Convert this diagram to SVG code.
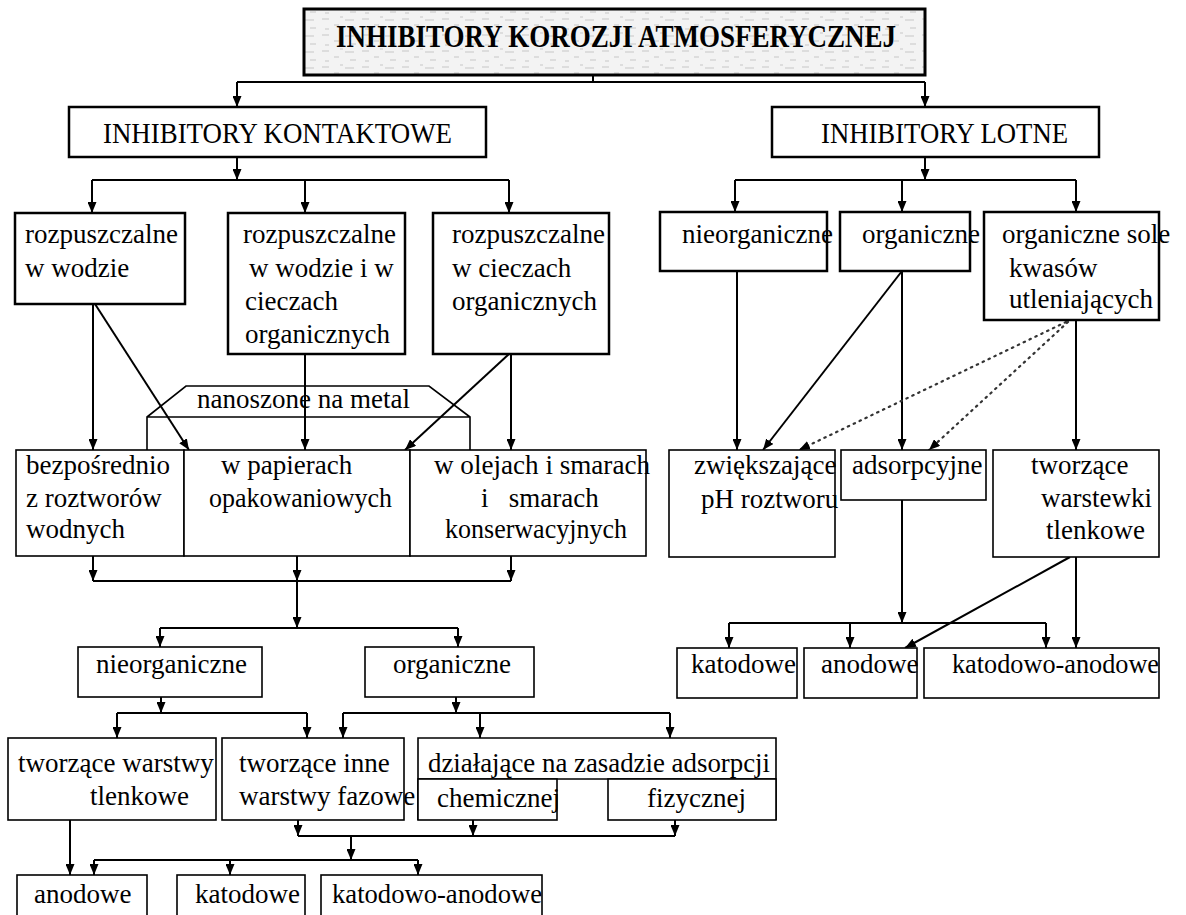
<svg xmlns="http://www.w3.org/2000/svg" width="1186" height="915" viewBox="0 0 1186 915">
<style>
.bx{fill:#fff;stroke:#000;stroke-width:2.5}
.bt{fill:#fff;stroke:#000;stroke-width:1.6}
.t{font-family:"Liberation Serif","Times New Roman",serif;font-size:27px;fill:#000}
.tl{font-family:"Liberation Serif","Times New Roman",serif;font-size:29px;fill:#000}
.tb{font-family:"Liberation Serif","Times New Roman",serif;font-size:31px;font-weight:bold;fill:#000}
.c{fill:none;stroke:#000;stroke-width:2}
.a{fill:none;stroke:#000;stroke-width:2;marker-end:url(#ah)}
.d{fill:none;stroke:#333;stroke-width:2.2;stroke-dasharray:1.5 5;stroke-linecap:round;marker-end:url(#ah)}
</style>
<defs>
<marker id="ah" markerUnits="userSpaceOnUse" markerWidth="11" markerHeight="9" refX="11" refY="4.5" orient="auto">
<path d="M0,0 L11,4.5 L0,9 z" fill="#000"/>
</marker>
<pattern id="noise" width="40" height="16" patternUnits="userSpaceOnUse">
<rect width="40" height="16" fill="#f3f3f3"/>
<path d="M2,3 h7 M14,9 h5 M25,4 h9 M5,13 h4 M30,12 h6 M20,1 h3" stroke="#c8c8c8" stroke-width="1"/>
</pattern>
</defs>
<rect width="1186" height="915" fill="#fff"/>

<g id="connectors">
<path class="c" d="M593,75 V82 M237,82 H925"/>
<path class="a" d="M237,82 V107"/>
<path class="a" d="M925,82 V107"/>
<path class="a" d="M237,157 V180"/>
<path class="c" d="M92,180 H509"/>
<path class="a" d="M92,180 V213"/>
<path class="a" d="M305,180 V213"/>
<path class="a" d="M509,180 V213"/>
<path class="a" d="M925,157 V180"/>
<path class="c" d="M735,180 H1076"/>
<path class="a" d="M735,180 V212"/>
<path class="a" d="M902,180 V212"/>
<path class="a" d="M1076,180 V212"/>
<path class="a" d="M93,304 V450"/>
<path class="a" d="M95,304 L189,450"/>
<path class="a" d="M305,354 V450"/>
<path class="a" d="M509,354 L405,450"/>
<path class="a" d="M511,354 V450"/>
<path class="a" d="M93,556 V581"/>
<path class="a" d="M297,556 V581"/>
<path class="a" d="M511,556 V581"/>
<path class="c" d="M93,581 H511"/>
<path class="a" d="M297,581 V628"/>
<path class="c" d="M160,628 H458"/>
<path class="a" d="M160,628 V647"/>
<path class="a" d="M458,628 V647"/>
<path class="a" d="M161,697 V713"/>
<path class="c" d="M117,713 H307"/>
<path class="a" d="M117,713 V738"/>
<path class="a" d="M307,713 V738"/>
<path class="a" d="M456,697 V713"/>
<path class="c" d="M343,713 H670"/>
<path class="a" d="M343,713 V738"/>
<path class="a" d="M480,713 V738"/>
<path class="a" d="M670,713 V738"/>
<path class="a" d="M298,820 V836"/>
<path class="a" d="M473,820 V836"/>
<path class="a" d="M675,820 V836"/>
<path class="c" d="M298,836 H675"/>
<path class="a" d="M351,836 V860"/>
<path class="c" d="M94,860 H418"/>
<path class="a" d="M94,860 V875"/>
<path class="a" d="M230,860 V875"/>
<path class="a" d="M418,860 V875"/>
<path class="a" d="M70,820 V875"/>
<path class="a" d="M737,271 V450"/>
<path class="a" d="M902,271 L763,450"/>
<path class="a" d="M902,271 V450"/>
<path class="d" d="M1066,322 L799,450"/>
<path class="d" d="M1068,322 L929,450"/>
<path class="a" d="M1076,320 V450"/>
<path class="a" d="M902,500 V623"/>
<path class="c" d="M729,623 H1046"/>
<path class="a" d="M729,623 V648"/>
<path class="a" d="M850,623 V648"/>
<path class="a" d="M1046,623 V648"/>
<path class="a" d="M1070,557 L905,648"/>
<path class="a" d="M1076,557 V648"/>
</g>

<g id="n_title">
<rect x="304" y="9" width="621" height="66" fill="url(#noise)" stroke="#000" stroke-width="3"/>
<text class="tb" x="336" y="47" textLength="560" lengthAdjust="spacingAndGlyphs">INHIBITORY KOROZJI ATMOSFERYCZNEJ</text>
</g>
<g id="n_kontaktowe">
<rect class="bx" x="69" y="107" width="417" height="50"/>
<text class="tl" x="103" y="143" textLength="349" lengthAdjust="spacingAndGlyphs">INHIBITORY KONTAKTOWE</text>
</g>
<g id="n_lotne">
<rect class="bx" x="772" y="107" width="327" height="50"/>
<text class="tl" x="821" y="143" textLength="247" lengthAdjust="spacingAndGlyphs">INHIBITORY LOTNE</text>
</g>
<g id="n_rozp_woda">
<rect class="bx" x="15" y="213" width="170" height="91"/>
<text class="t" x="25" y="243">rozpuszczalne</text>
<text class="t" x="25" y="277">w wodzie</text>
</g>
<g id="n_rozp_oba">
<rect class="bx" x="228" y="213" width="177" height="141"/>
<text class="t" x="243" y="243">rozpuszczalne</text>
<text class="t" x="249" y="277">w wodzie i w</text>
<text class="t" x="245" y="310">cieczach</text>
<text class="t" x="245" y="343">organicznych</text>
</g>
<g id="n_rozp_ciecze">
<rect class="bx" x="433" y="213" width="176" height="141"/>
<text class="t" x="452" y="243">rozpuszczalne</text>
<text class="t" x="452" y="277">w cieczach</text>
<text class="t" x="452" y="310">organicznych</text>
</g>
<g id="n_l_nieorg">
<rect class="bx" x="660" y="212" width="167" height="59"/>
<text class="t" x="682" y="243">nieorganiczne</text>
</g>
<g id="n_l_org">
<rect class="bx" x="840" y="212" width="130" height="59"/>
<text class="t" x="862" y="243">organiczne</text>
</g>
<g id="n_l_sole">
<rect class="bx" x="984" y="212" width="175" height="108"/>
<text class="t" x="1002" y="243">organiczne sole</text>
<text class="t" x="1009" y="277">kwasów</text>
<text class="t" x="1009" y="308">utleniających</text>
</g>
<g id="n_nanoszone">
<path fill="none" stroke="#000" stroke-width="1.6" d="M147,450 V417 L186,386 H429 L470,417 V450 M147,417 H470"/>
<text class="t" x="197" y="408" textLength="213" lengthAdjust="spacingAndGlyphs">nanoszone na metal</text>
</g>
<g id="n_bezposrednio">
<rect class="bt" x="16" y="450" width="168" height="106"/>
<text class="t" x="26" y="474">bezpośrednio</text>
<text class="t" x="26" y="507">z roztworów</text>
<text class="t" x="26" y="538">wodnych</text>
</g>
<g id="n_papierach">
<rect class="bt" x="184" y="450" width="226" height="106"/>
<text class="t" x="221" y="474">w papierach</text>
<text class="t" x="209" y="507" textLength="183" lengthAdjust="spacingAndGlyphs">opakowaniowych</text>
</g>
<g id="n_olejach">
<rect class="bt" x="410" y="450" width="236" height="106"/>
<text class="t" x="434" y="474" textLength="216" lengthAdjust="spacingAndGlyphs">w olejach i smarach</text>
<text class="t" x="481" y="507" xml:space="preserve">i   smarach</text>
<text class="t" x="445" y="538" textLength="182" lengthAdjust="spacingAndGlyphs">konserwacyjnych</text>
</g>
<g id="n_zwiekszajace">
<rect class="bt" x="669" y="450" width="166" height="107"/>
<text class="t" x="694" y="474">zwiększające</text>
<text class="t" x="701" y="508">pH roztworu</text>
</g>
<g id="n_adsorpcyjne">
<rect class="bt" x="841" y="450" width="145" height="50"/>
<text class="t" x="852" y="474">adsorpcyjne</text>
</g>
<g id="n_tworzace_warstewki">
<rect class="bt" x="993" y="450" width="166" height="107"/>
<text class="t" x="1031" y="474">tworzące</text>
<text class="t" x="1041" y="507">warstewki</text>
<text class="t" x="1046" y="539">tlenkowe</text>
</g>
<g id="n_r_katodowe">
<rect class="bt" x="677" y="648" width="120" height="50"/>
<text class="t" x="691" y="673">katodowe</text>
</g>
<g id="n_r_anodowe">
<rect class="bt" x="804" y="648" width="113" height="50"/>
<text class="t" x="821" y="673">anodowe</text>
</g>
<g id="n_r_katanod">
<rect class="bt" x="924" y="648" width="235" height="50"/>
<text class="t" x="952" y="673" textLength="207" lengthAdjust="spacingAndGlyphs">katodowo-anodowe</text>
</g>
<g id="n_nieorganiczne">
<rect class="bt" x="78" y="647" width="184" height="50"/>
<text class="t" x="96" y="673">nieorganiczne</text>
</g>
<g id="n_organiczne">
<rect class="bt" x="365" y="647" width="169" height="50"/>
<text class="t" x="393" y="673">organiczne</text>
</g>
<g id="n_tworzace_tlenkowe">
<rect class="bt" x="8" y="738" width="208" height="82"/>
<text class="t" x="18" y="772">tworzące warstwy</text>
<text class="t" x="90" y="805">tlenkowe</text>
</g>
<g id="n_tworzace_fazowe">
<rect class="bt" x="222" y="738" width="182" height="82"/>
<text class="t" x="239" y="772">tworzące inne</text>
<text class="t" x="239" y="805">warstwy fazowe</text>
</g>
<g id="n_adsorpcji">
<path fill="none" stroke="#000" stroke-width="1.6" d="M418,820 V738 H776 V820 M418,779 H776"/>
<text class="t" x="428" y="772" textLength="342" lengthAdjust="spacingAndGlyphs">działające na zasadzie adsorpcji</text>
</g>
<g id="n_chemicznej">
<rect class="bt" x="418" y="779" width="139" height="41"/>
<text class="t" x="437" y="807">chemicznej</text>
</g>
<g id="n_fizycznej">
<rect class="bt" x="608" y="779" width="168" height="41"/>
<text class="t" x="647" y="807">fizycznej</text>
</g>
<g id="n_l_anodowe">
<rect class="bt" x="17" y="875" width="130" height="60"/>
<text class="t" x="34" y="903">anodowe</text>
</g>
<g id="n_l_katodowe">
<rect class="bt" x="177" y="875" width="128" height="60"/>
<text class="t" x="195" y="903">katodowe</text>
</g>
<g id="n_l_katanod">
<rect class="bt" x="321" y="875" width="221" height="60"/>
<text class="t" x="332" y="903" textLength="210" lengthAdjust="spacingAndGlyphs">katodowo-anodowe</text>
</g>
</svg>
